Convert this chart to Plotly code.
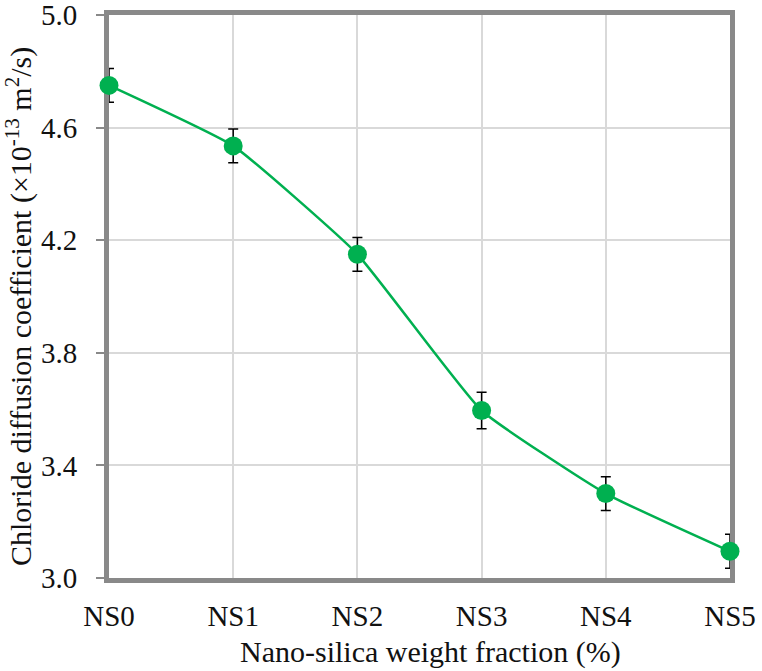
import plotly.graph_objects as go

categories = ["NS0", "NS1", "NS2", "NS3", "NS4", "NS5"]
diffusion = [4.75, 4.535, 4.15, 3.595, 3.30, 3.095]
errors = [0.06, 0.06, 0.06, 0.065, 0.06, 0.06]
y_ticks = [3.0, 3.4, 3.8, 4.2, 4.6, 5.0]
x_title = "Nano-silica weight fraction (%)"
y_title = "Chloride diffusion coefficient (×10<sup>-13</sup> m<sup>2</sup>/s)"

green = "#00B050"
font_family = "Liberation Serif, Times New Roman, serif"

fig = go.Figure()
fig.add_trace(go.Scatter(
    x=list(range(len(categories))),
    y=diffusion,
    mode="lines+markers",
    line=dict(color=green, width=2.5, shape="spline", smoothing=0.4),
    marker=dict(color=green, size=19),
    error_y=dict(type="data", array=errors, color="#000000", thickness=1.5, width=5),
    cliponaxis=False,
    showlegend=False,
))

fig.update_layout(
    width=762, height=671,
    margin=dict(l=109, r=32, t=15, b=93),
    paper_bgcolor="white",
    plot_bgcolor="white",
    font=dict(family=font_family, size=29, color="#111111"),
    xaxis=dict(
        range=[0, 5],
        tickmode="array",
        tickvals=list(range(len(categories))),
        ticktext=categories,
        showgrid=True, gridcolor="#d9d9d9", gridwidth=1.5,
        showline=True, linecolor="#898989", linewidth=5, mirror=True,
        ticks="", zeroline=False,
        layer="below traces",
        automargin=False,
        ticklabelstandoff=8,
        ticklabeloverflow="allow",
    ),
    yaxis=dict(
        range=[3.0, 5.0],
        tickmode="array",
        tickvals=y_ticks,
        ticktext=[f"{v:.1f}" for v in y_ticks],
        showgrid=True, gridcolor="#d9d9d9", gridwidth=1.5,
        showline=True, linecolor="#898989", linewidth=5, mirror=True,
        ticks="outside", ticklen=8, tickwidth=1.5, tickcolor="#898989",
        zeroline=False,
        layer="below traces",
        automargin=False,
        ticklabelstandoff=13,
        ticklabeloverflow="allow",
    ),
    annotations=[
        dict(text=x_title, xref="paper", yref="paper", x=0.517, y=-0.131,
             xanchor="center", yanchor="middle", showarrow=False,
             font=dict(size=30)),
        dict(text=y_title, xref="paper", yref="paper", x=-0.145, y=0.483,
             xanchor="center", yanchor="middle", showarrow=False, textangle=-90,
             font=dict(size=30)),
    ],
)

fig.write_html(
    "out.html",
    config={"displayModeBar": False},
    post_script="document.body.style.margin='0px';document.body.style.padding='0px';",
)
